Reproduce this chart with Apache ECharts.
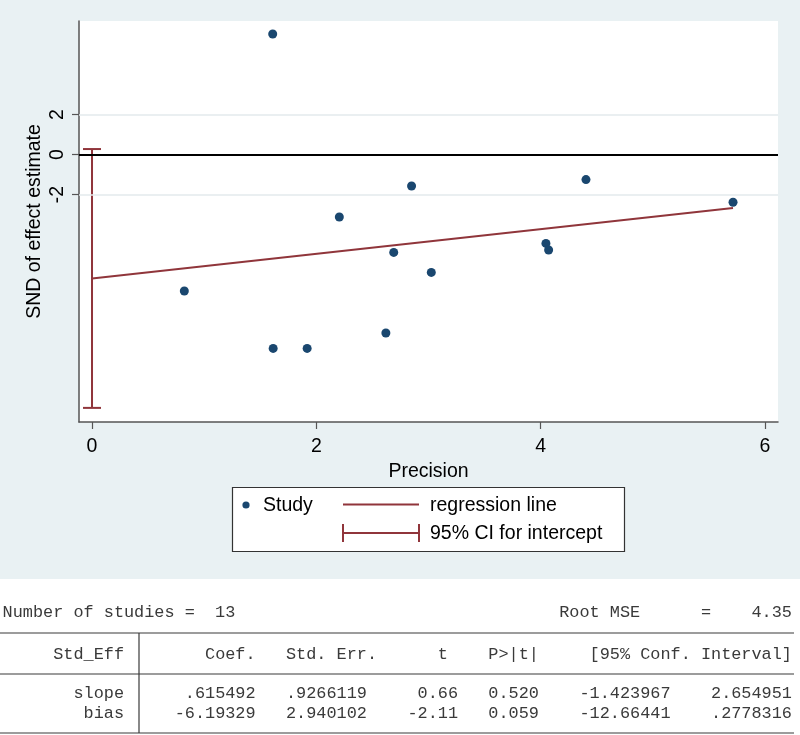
<!DOCTYPE html>
<html>
<head>
<meta charset="utf-8">
<script src="https://cdn.jsdelivr.net/npm/echarts@6/dist/echarts.min.js"></script>
<style>
  html, body { margin: 0; padding: 0; }
  #main {
    width: 800px; height: 735px;
    background: linear-gradient(to bottom, #E9F1F3 0px, #E9F1F3 579px, #ffffff 579px, #ffffff 100%);
  }
</style>
</head>
<body>
<div id="main"></div>
<script>
// ---- data ----
var precision = [1.611, 0.823, 1.615, 1.918, 2.205, 2.62, 2.69, 2.849, 3.025, 4.047, 4.071, 4.404, 5.715];
var snd       = [6.03, -6.82, -9.69, -9.69, -3.12, -8.92, -4.89, -1.57, -5.89, -4.44, -4.77, -1.25, -2.38];
var slopeCoef = 0.615492;
var biasCoef  = -6.19329;
var biasCI    = [-12.66441, 0.2778316];
var xTicks = [0, 2, 4, 6];
var yTicks = [-2, 0, 2];

// table text
var nStudies = 13;
var rootMSE = '4.35';
var headerCells = ['Std_Eff', 'Coef.', 'Std. Err.', 't', 'P>|t|', '[95% Conf. Interval]'];
var headerEndCols = [12, 25, 37, 44, 53, 78];
var rowNames = ['slope', 'bias'];
var rowSlope = ['.615492', '.9266119', '0.66', '0.520', '-1.423967', '2.654951'];
var rowBias  = ['-6.19329', '2.940102', '-2.11', '0.059', '-12.66441', '.2778316'];
var rowEndCols = [25, 36, 45, 53, 66, 78];

// ---- build ----
var chart = echarts.init(document.getElementById('main'), null, {renderer: 'canvas'});
var SANS = '"Liberation Sans", Arial, sans-serif';
var MONO = '"Liberation Mono", "Courier New", monospace';
var navy = '#1a476f', maroon = '#90353b';

var scatterData = precision.map(function (p, i) { return [p, snd[i]]; });
var xMaxP = Math.max.apply(null, precision);
var regData = [[0, biasCoef], [xMaxP, biasCoef + slopeCoef * xMaxP]];

// monospace table layout
var CW = 10.12, X0 = 2.6, FS = 16.86;
function colX(c) { return X0 + c * CW; }
var tColor = '#3a3a3a';
var graphics = [];
function monoText(txt, x, y, align) {
  graphics.push({type: 'text', x: x, y: y, style: {
    text: txt, x: 0, y: 0, fill: tColor, font: FS + 'px ' + MONO,
    align: align, verticalAlign: 'middle'}});
}
function hline(y, x1, x2) {
  graphics.push({type: 'line', shape: {x1: x1, y1: y, x2: x2, y2: y},
    style: {stroke: '#3a3a3a', lineWidth: 1.2}});
}
monoText('Number of studies =  ' + nStudies, X0, 613, 'left');
monoText('Root MSE', colX(55), 613, 'left');
monoText('=', colX(70), 613, 'right');
monoText(rootMSE, colX(78), 613, 'right');
hline(633, 0, 794);
headerCells.forEach(function (h, i) { monoText(h, colX(headerEndCols[i]), 655, 'right'); });
hline(674, 0, 794);
monoText(rowNames[0], colX(12), 694, 'right');
rowSlope.forEach(function (v, i) { monoText(v, colX(rowEndCols[i]), 694, 'right'); });
monoText(rowNames[1], colX(12), 714, 'right');
rowBias.forEach(function (v, i) { monoText(v, colX(rowEndCols[i]), 714, 'right'); });
hline(733, 0, 794);
graphics.push({type: 'line', shape: {x1: 139, y1: 633, x2: 139, y2: 733},
  style: {stroke: '#3a3a3a', lineWidth: 1.2}});

// legend box
var legendFont = '19.5px ' + SANS;
graphics.push({type: 'rect', shape: {x: 232.5, y: 487.5, width: 392, height: 64},
  style: {fill: '#ffffff', stroke: '#333', lineWidth: 1.2}});
graphics.push({type: 'circle', shape: {cx: 246, cy: 505, r: 3.6}, style: {fill: navy}});
graphics.push({type: 'text', x: 263, y: 506, style: {text: 'Study', fill: '#000', font: legendFont, align: 'left', verticalAlign: 'middle'}});
graphics.push({type: 'line', shape: {x1: 343, y1: 504.5, x2: 419, y2: 504.5}, style: {stroke: maroon, lineWidth: 2}});
graphics.push({type: 'text', x: 430, y: 506, style: {text: 'regression line', fill: '#000', font: legendFont, align: 'left', verticalAlign: 'middle'}});
graphics.push({type: 'line', shape: {x1: 343, y1: 533, x2: 419, y2: 533}, style: {stroke: maroon, lineWidth: 2}});
graphics.push({type: 'line', shape: {x1: 343, y1: 524, x2: 343, y2: 542}, style: {stroke: maroon, lineWidth: 2}});
graphics.push({type: 'line', shape: {x1: 419, y1: 524, x2: 419, y2: 542}, style: {stroke: maroon, lineWidth: 2}});
graphics.push({type: 'text', x: 430, y: 534, style: {text: '95% CI for intercept', fill: '#000', font: legendFont, align: 'left', verticalAlign: 'middle'}});

var option = {
  backgroundColor: 'transparent',
  animation: false,
  textStyle: {fontFamily: SANS},
  grid: {left: 79, right: 22, top: 21, bottom: 313, show: true, backgroundColor: '#ffffff', borderWidth: 0},
  xAxis: {
    type: 'value', min: -0.116, max: 6.116,
    name: 'Precision', nameLocation: 'middle', nameGap: 32,
    nameTextStyle: {fontSize: 19.5, color: '#000', fontFamily: SANS},
    axisLine: {show: true, onZero: false, lineStyle: {color: '#555', width: 1.5}},
    axisTick: {show: true, length: 7, customValues: xTicks, lineStyle: {color: '#555', width: 1.2}},
    axisLabel: {customValues: xTicks, fontSize: 19.5, color: '#000', margin: 15, fontFamily: SANS},
    splitLine: {show: false}
  },
  yAxis: {
    type: 'value', min: -13.37, max: 6.68,
    name: 'SND of effect estimate', nameLocation: 'middle', nameGap: 34, nameRotate: 90,
    nameMoveOverlap: false,
    nameTextStyle: {fontSize: 19.5, color: '#000', fontFamily: SANS},
    axisLine: {show: true, onZero: false, lineStyle: {color: '#555', width: 1.5}},
    axisTick: {show: true, length: 7, customValues: yTicks, lineStyle: {color: '#555', width: 1.2}},
    axisLabel: {customValues: yTicks, rotate: 90, fontSize: 19.5, color: '#000', margin: 11, fontFamily: SANS},
    splitLine: {show: false}
  },
  series: [
    {
      name: 'Study', type: 'scatter', data: scatterData, symbol: 'circle', symbolSize: 9,
      itemStyle: {color: navy, opacity: 1}, z: 5,
      markLine: {
        silent: true, symbol: 'none', label: {show: false}, animation: false,
        data: [
          {yAxis: 2, lineStyle: {color: '#e3eaed', width: 1.5, type: 'solid'}},
          {yAxis: -2, lineStyle: {color: '#e3eaed', width: 1.5, type: 'solid'}},
          {yAxis: 0, lineStyle: {color: '#000', width: 2, type: 'solid'}}
        ]
      }
    },
    {
      name: 'regression line', type: 'line', data: regData, symbol: 'none',
      lineStyle: {color: maroon, width: 2}, z: 4
    },
    {
      name: '95% CI for intercept', type: 'custom', z: 4,
      data: [[0, biasCI[0], biasCI[1]]],
      renderItem: function (params, api) {
        var lo = api.coord([api.value(0), api.value(1)]);
        var hi = api.coord([api.value(0), api.value(2)]);
        var cap = 9;
        var st = {stroke: maroon, lineWidth: 2};
        return {type: 'group', children: [
          {type: 'line', shape: {x1: lo[0], y1: lo[1], x2: hi[0], y2: hi[1]}, style: st},
          {type: 'line', shape: {x1: lo[0] - cap, y1: lo[1], x2: lo[0] + cap, y2: lo[1]}, style: st},
          {type: 'line', shape: {x1: hi[0] - cap, y1: hi[1], x2: hi[0] + cap, y2: hi[1]}, style: st}
        ]};
      }
    }
  ],
  graphic: graphics
};
chart.setOption(option);
</script>
</body>
</html>
